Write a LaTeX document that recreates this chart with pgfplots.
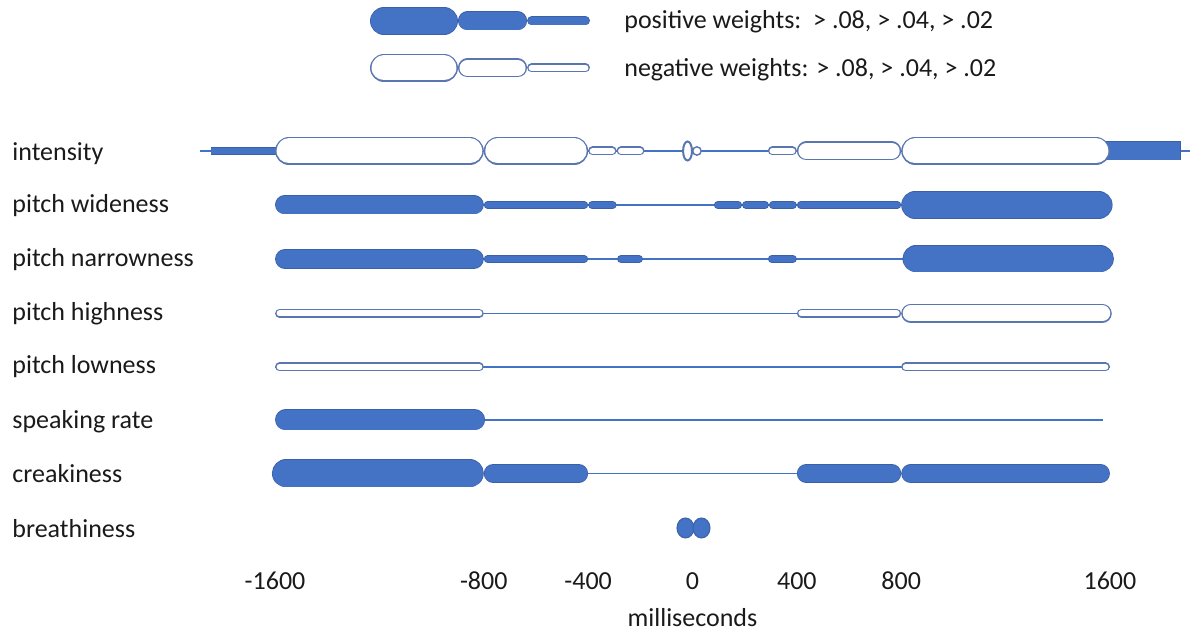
\documentclass[border=0pt]{standalone}
\usepackage{pgfplots}
\pgfplotsset{compat=1.18}
\usepackage{fontspec}
\setmainfont{Carlito}
\definecolor{posblue}{HTML}{4472C4}
\definecolor{posdark}{HTML}{3A60A8}
\definecolor{negline}{HTML}{5A76B0}
\definecolor{linecol}{HTML}{4472C4}
\definecolor{txt}{HTML}{1A1A1A}
% positive (filled) segment: x1 x2 y height(px)
\newcommand\pseg[4]{%
\addplot[posdark, line width=#4*0.5pt, line cap=round, shorten <=#4*0.25pt, shorten >=#4*0.25pt, forget plot] coordinates {(#1,#3) (#2,#3)};
\addplot[posblue, line width=#4*0.5pt-0.7pt, line cap=round, shorten <=#4*0.25pt, shorten >=#4*0.25pt, forget plot] coordinates {(#1,#3) (#2,#3)};
}
% negative (outlined) segment
\newcommand\nseg[4]{%
\addplot[negline, line width=#4*0.5pt, line cap=round, shorten <=#4*0.25pt, shorten >=#4*0.25pt, forget plot] coordinates {(#1,#3) (#2,#3)};
\addplot[white, line width=#4*0.5pt-1.5pt, line cap=round, shorten <=#4*0.25pt, shorten >=#4*0.25pt, forget plot] coordinates {(#1,#3) (#2,#3)};
}
% connecting line
\newcommand\conn[3]{%
\addplot[linecol, line width=0.65pt, forget plot] coordinates {(#1,#3) (#2,#3)};
}
\begin{document}
\fontsize{13}{15}\selectfont
\begin{tikzpicture}
\begin{axis}[
  at={(0,0)}, anchor=south west,
  scale only axis, width=598pt, height=315pt,
  xmin=-2654.3, xmax=1929.9, ymin=0, ymax=630,
  clip=false,
  axis line style={draw=none}, tick style={draw=none},
  every tick label/.append style={font=\fontsize{13}{15}\selectfont, text=txt},
  xtick={-1600,-800,-400,0,400,800,1600},
  xticklabels={-1600,-800,-400,0,400,800,1600},
  xticklabel style={anchor=base, yshift=20pt, inner sep=0pt},
  ytick={469.5,417.5,363.5,309.5,256.5,201.5,147.5,92.5},
  yticklabels={intensity,pitch wideness,pitch narrowness,pitch highness,pitch lowness,speaking rate,creakiness,breathiness},
  yticklabel style={anchor=base west, xshift=6pt, inner sep=0pt},
  xlabel={milliseconds},
  xlabel style={at={(axis description cs:0.579,0.0058)}, anchor=base, inner sep=0pt, font=\fontsize{13}{15}\selectfont, text=txt},
]
% connecting lines
\conn{-1888}{1907}{479}
\conn{-1600}{1600}{425}
\conn{-1600}{1600}{371}
\conn{-1600}{1600}{316.5}
\conn{-1600}{1600}{263}
\conn{-800}{1573}{210}
\conn{-1600}{1600}{156.5}
% intensity filled ends
\addplot[posdark, line width=4pt, line cap=butt, forget plot] coordinates {(-1846,479) (-1560,479)};
\addplot[posblue, line width=3.3pt, line cap=butt, forget plot] coordinates {(-1844,479) (-1560,479)};
\addplot[posdark, line width=9.5pt, line cap=butt, forget plot] coordinates {(1560,479) (1872,479)};
\addplot[posblue, line width=8.8pt, line cap=butt, forget plot] coordinates {(1560,479) (1870,479)};
% intensity
\nseg{-1600}{-800}{479}{28}
\nseg{-800}{-400}{479}{28}
\nseg{-400}{-291}{479}{9}
\nseg{-291}{-184}{479}{9}
\nseg{289}{400}{479}{9}
\nseg{400}{800}{479}{19}
\nseg{800}{1600}{479}{28}
\addplot[only marks, mark=*, mark size=4.75pt, mark options={xscale=0.47, fill=white, draw=negline, line width=1pt}, forget plot] coordinates {(-19,479)};
\addplot[only marks, mark=*, mark size=2.1pt, mark options={fill=white, draw=negline, line width=0.7pt}, forget plot] coordinates {(17,479)};
% pitch wideness
\pseg{-1600}{-800}{425}{19}
\pseg{-800}{-400}{425}{8}
\pseg{-400}{-291}{425}{8}
\pseg{82}{190}{425}{8}
\pseg{190}{293}{425}{8}
\pseg{293}{400}{425}{8}
\pseg{400}{800}{425}{8}
\pseg{800}{1610}{425}{28}
% pitch narrowness
\pseg{-1600}{-800}{371}{20}
\pseg{-800}{-400}{371}{8}
\pseg{-289}{-190}{371}{8}
\pseg{289}{400}{371}{8}
\pseg{805}{1615}{371}{27}
% pitch highness
\nseg{-1600}{-800}{316.5}{9}
\nseg{400}{800}{316.5}{9}
\nseg{800}{1607}{316.5}{19}
% pitch lowness
\nseg{-1600}{-800}{263}{9}
\nseg{800}{1600}{263}{9}
% speaking rate
\pseg{-1600}{-795}{210}{21}
% creakiness
\pseg{-1612}{-800}{156.5}{28}
\pseg{-800}{-400}{156.5}{19}
\pseg{400}{800}{156.5}{19}
\pseg{800}{1600}{156.5}{19}
% breathiness
\addplot[only marks, mark=*, mark size=5pt, mark options={xscale=0.85, fill=posblue, draw=posdark, line width=0.5pt}, forget plot] coordinates {(-27,102) (34.5,102)};
% legend
\pseg{-1236}{-899}{609}{28}
\pseg{-899}{-634}{609}{19}
\pseg{-634}{-393}{609}{9}
\nseg{-1236}{-899}{562}{28}
\nseg{-899}{-634}{562}{19}
\nseg{-634}{-393}{562}{9}
\node[anchor=base west, inner sep=0pt, text=txt, font=\fontsize{13}{15}\selectfont] at (axis cs:-262.6,601.5) {positive weights:\ \ {>}~.08, {>}~.04, {>}~.02};
\node[anchor=base west, inner sep=0pt, text=txt, font=\fontsize{13}{15}\selectfont] at (axis cs:-262.6,553) {negative weights: {>}~.08, {>}~.04, {>}~.02};
\end{axis}
\pgfresetboundingbox
\useasboundingbox (0,0) rectangle (598pt,315pt);
\end{tikzpicture}
\end{document}
